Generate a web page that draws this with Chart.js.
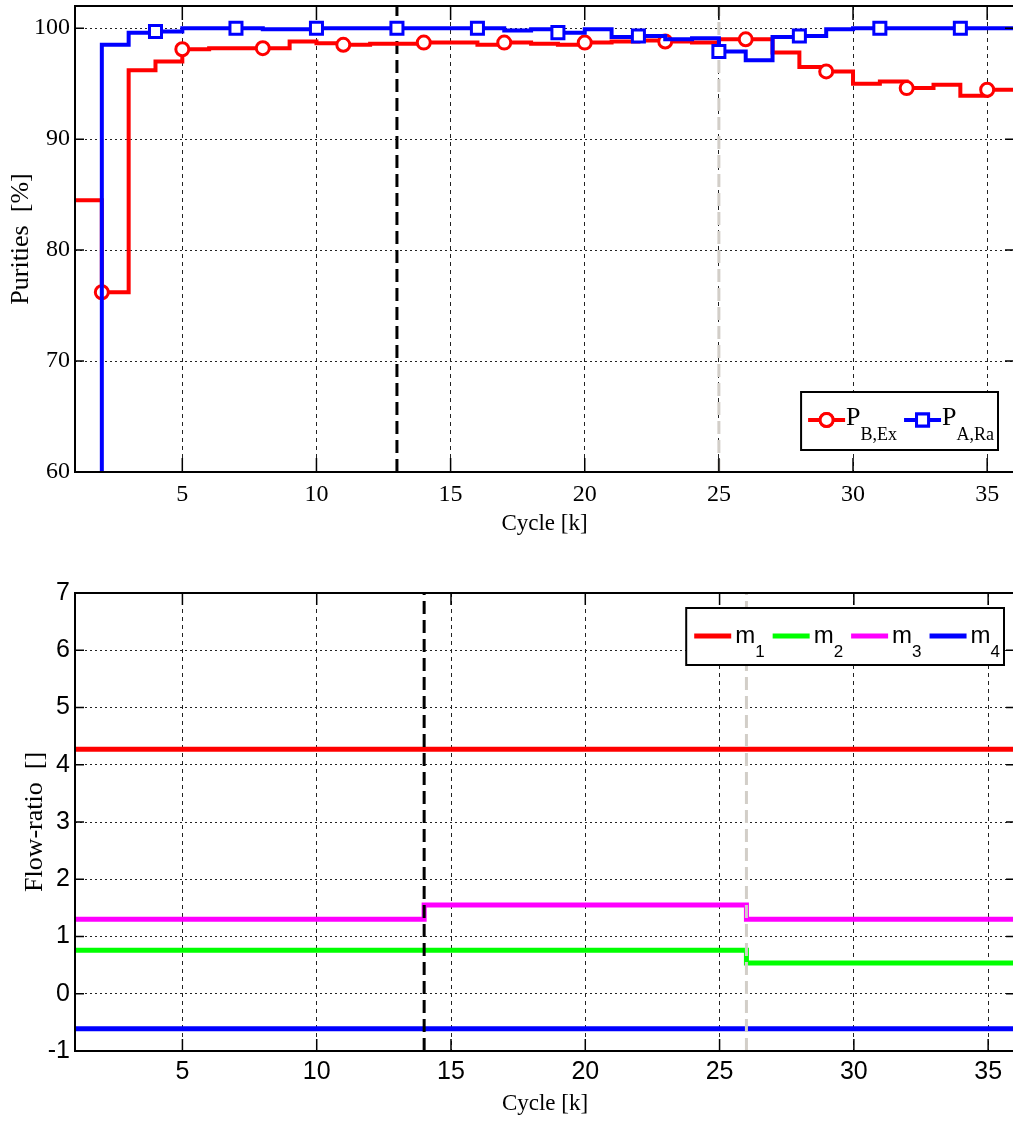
<!DOCTYPE html>
<html>
<head>
<meta charset="utf-8">
<script src="https://cdn.jsdelivr.net/npm/chart.js@4.4.1/dist/chart.umd.min.js"></script>
<style>
  html, body { margin: 0; padding: 0; background: #fff; overflow: hidden; }
  #wrap { position: relative; width: 1013px; height: 1125px; overflow: hidden; }
  #wrap canvas { position: absolute; left: 0; }
  #purity { top: 0; }
  #flow { top: 545px; }
</style>
</head>
<body>
<div id="wrap">
  <canvas id="purity" width="1016" height="545"></canvas>
  <canvas id="flow" width="1016" height="580"></canvas>
</div>
<script>
// Valeurs (puretés par cycle)
const cycles = [1, 2, 3, 4, 5, 6, 7, 8, 9, 10, 11, 12, 13, 14, 15, 16, 17, 18,
                19, 20, 21, 22, 23, 24, 25, 26, 27, 28, 29, 30, 31, 32, 33, 34, 35, 36];
const purityBEx = [84.5, 76.2, 96.2, 97.0, 98.1, 98.2, 98.2, 98.2, 98.8, 98.65, 98.5, 98.6,
                   98.6, 98.7, 98.7, 98.5, 98.7, 98.6, 98.5, 98.7, 98.8, 98.9, 98.8, 98.7,
                   99.0, 99.0, 97.8, 96.5, 96.1, 95.0, 95.2, 94.6, 94.9, 93.9, 94.45, 94.45];
const purityARa = [45, 98.5, 99.6, 99.7, 100, 100, 100, 99.9, 99.9, 100, 100, 100,
                   100, 100, 100, 100, 99.8, 99.9, 99.6, 99.9, 99.2, 99.3, 99.0, 99.1,
                   97.9, 97.1, 99.2, 99.3, 99.9, 100, 100, 100, 100, 100, 100, 100];
const purityLegend = [['P', 'B,Ex'], ['P', 'A,Ra']];
const purityRange = [60, 102];
const purityTicksY = [60, 70, 80, 90, 100];
const switchTop = [13, 25];

// Rapports de débit
const flowCycles = [1, 14, 26, 36];
const flowM1 = [4.27, 4.27, 4.27, 4.27];
const flowM2 = [0.76, 0.76, 0.535, 0.535];
const flowM3 = [1.30, 1.55, 1.30, 1.30];
const flowM4 = [-0.61, -0.61, -0.61, -0.61];
const flowLegend = [['m', '1'], ['m', '2'], ['m', '3'], ['m', '4']];
const flowRange = [-1, 7];
const flowTicksY = [-1, 0, 1, 2, 3, 4, 5, 6, 7];
const switchBottom = [14, 26];

const cycleRange = [1, 36];
const cycleTicks = [5, 10, 15, 20, 25, 30, 35];

const RED = '#ff0000', BLUE = '#0000ff', GREEN = '#00ff00', MAGENTA = '#ff00ff';
const BLACK = '#000000', GREY = '#d2cec8';
const SERIF = "'Liberation Serif', 'Times New Roman', serif";
const SANS = "'Liberation Sans Narrow', 'Liberation Sans', Arial, sans-serif";

function toPoints(xs, ys) {
    return xs.map((x, i) => ({ x: x, y: ys[i] }));
}

function switchLine(cycle, range, color, order) {
    return {
        data: [{ x: cycle, y: range[0] }, { x: cycle, y: range[1] }],
        borderColor: color,
        borderWidth: 3,
        borderDash: [13, 6],
        pointRadius: 0,
        order: order
    };
}

// Cadre façon Matlab : bordure + graduations vers l'intérieur
const axesBox = {
    id: 'axesBox',
    afterDraw(chart, args, o) {
        const { ctx, chartArea: a, scales: { x, y } } = chart;
        ctx.save();
        ctx.strokeStyle = BLACK;
        ctx.lineWidth = 1.5;
        ctx.beginPath();
        x.ticks.forEach(t => {
            const px = x.getPixelForValue(t.value);
            ctx.moveTo(px, a.bottom); ctx.lineTo(px, a.bottom - o.xTickLen);
            ctx.moveTo(px, a.top); ctx.lineTo(px, a.top + o.xTickLen);
        });
        y.ticks.forEach(t => {
            const py = y.getPixelForValue(t.value);
            ctx.moveTo(a.left, py); ctx.lineTo(a.left + o.yTickLen, py);
            ctx.moveTo(a.right, py); ctx.lineTo(a.right - o.yTickLen, py);
        });
        ctx.stroke();
        ctx.lineWidth = 2;
        ctx.strokeRect(a.left, a.top, a.right - a.left, a.bottom - a.top);
        ctx.restore();
    }
};

// Légende encadrée avec indices
const boxLegend = {
    id: 'boxLegend',
    afterDraw(chart, args, o) {
        const { ctx, chartArea: a } = chart;
        const items = chart.data.datasets.filter(d => d.legendText);
        ctx.save();
        const widths = items.map(d => {
            ctx.font = o.mainFont;
            const wm = ctx.measureText(d.legendText[0]).width;
            ctx.font = o.subFont;
            const ws = ctx.measureText(d.legendText[1]).width;
            return { wm, ws };
        });
        let total = o.padLeft + o.padRight;
        widths.forEach((w, i) => {
            total += o.sampleLen + o.textGap + w.wm + w.ws + (i > 0 ? o.itemGap : 0);
        });
        const right = a.right - o.right;
        const left = right - total;
        const top = o.fromBottom != null ? a.bottom - o.fromBottom - o.height : a.top + o.fromTop;

        ctx.fillStyle = '#fff';
        ctx.fillRect(left, top, total, o.height);
        ctx.strokeStyle = BLACK;
        ctx.lineWidth = 2;
        ctx.strokeRect(left, top, total, o.height);

        let cx = left + o.padLeft;
        items.forEach((d, i) => {
            if (i > 0) cx += o.itemGap;
            const ly = top + o.sampleY;
            ctx.strokeStyle = d.borderColor;
            ctx.lineWidth = d.borderWidth;
            ctx.setLineDash([]);
            ctx.beginPath();
            ctx.moveTo(cx, ly);
            ctx.lineTo(cx + o.sampleLen, ly);
            ctx.stroke();
            if (d.legendMarker) {
                ctx.lineWidth = d.pointBorderWidth;
                Chart.helpers.drawPoint(ctx, {
                    pointStyle: d.pointStyle,
                    radius: d.legendMarker,
                    borderWidth: d.pointBorderWidth
                }, cx + o.sampleLen / 2, ly);
                ctx.fillStyle = '#fff';
                ctx.fill();
                ctx.stroke();
            }
            cx += o.sampleLen + o.textGap;
            ctx.fillStyle = BLACK;
            ctx.textBaseline = 'alphabetic';
            ctx.textAlign = 'left';
            ctx.font = o.mainFont;
            ctx.fillText(d.legendText[0], cx, top + o.mainBase);
            cx += widths[i].wm;
            ctx.font = o.subFont;
            ctx.fillText(d.legendText[1], cx, top + o.subBase);
            cx += widths[i].ws;
        });
        ctx.restore();
    }
};

function cycleAxis(height, tickFont, tickPad, titleFont) {
    return {
        type: 'linear',
        min: cycleRange[0],
        max: cycleRange[1],
        afterBuildTicks: s => { s.ticks = cycleTicks.map(v => ({ value: v })); },
        afterFit: s => { s.height = height; s.paddingLeft = 0; s.paddingRight = 0; },
        ticks: { color: BLACK, font: tickFont, padding: tickPad, maxRotation: 0, autoSkip: false },
        grid: { color: '#222', lineWidth: 1, drawTicks: false },
        border: { display: false, dash: [4, 4] },
        title: { display: true, text: 'Cycle [k]', color: BLACK, font: titleFont, padding: { top: 0, bottom: 7 } }
    };
}

function valueAxis(range, tickValues, width, tickFont, label, titlePad) {
    return {
        type: 'linear',
        min: range[0],
        max: range[1],
        afterBuildTicks: s => { s.ticks = tickValues.map(v => ({ value: v })); },
        afterFit: s => { s.width = width; s.paddingTop = 0; s.paddingBottom = 0; },
        ticks: { color: BLACK, font: tickFont, padding: 5, autoSkip: false },
        grid: { color: '#222', lineWidth: 1, drawTicks: false },
        border: { display: false, dash: [2, 3] },
        title: { display: true, text: label, color: BLACK, font: { family: SERIF, size: 26 }, padding: { top: titlePad, bottom: 0 } }
    };
}

// Graphique du haut : puretés
new Chart(document.getElementById('purity'), {
    type: 'line',
    data: {
        datasets: [
            {
                data: toPoints(cycles, purityBEx),
                borderColor: RED,
                borderWidth: 4,
                stepped: true,
                pointStyle: 'circle',
                pointRadius: ctx => (ctx.dataIndex % 3 === 1 ? 6.5 : 0),
                pointBackgroundColor: '#fff',
                pointBorderColor: RED,
                pointBorderWidth: 3,
                legendText: purityLegend[0],
                legendMarker: 6.5,
                order: 2
            },
            {
                data: toPoints(cycles, purityARa),
                borderColor: BLUE,
                borderWidth: 4,
                stepped: true,
                pointStyle: 'rect',
                pointRadius: ctx => (ctx.dataIndex % 3 === 0 ? 8.5 : 0),
                pointBackgroundColor: '#fff',
                pointBorderColor: BLUE,
                pointBorderWidth: 3,
                legendText: purityLegend[1],
                legendMarker: 8.5,
                order: 1
            },
            switchLine(switchTop[0], purityRange, BLACK, 3),
            switchLine(switchTop[1], purityRange, GREY, 3)
        ]
    },
    options: {
        responsive: false,
        animation: false,
        events: [],
        layout: { autoPadding: false, padding: { top: 6, left: 0, right: 2, bottom: 0 } },
        scales: {
            x: cycleAxis(73, { family: SERIF, size: 24 }, 8, { family: SERIF, size: 23 }),
            y: valueAxis(purityRange, purityTicksY, 75, { family: SERIF, size: 24 }, 'Purities  [%]', 6)
        },
        plugins: {
            legend: { display: false },
            tooltip: { enabled: false },
            axesBox: { xTickLen: 14, yTickLen: 9 },
            boxLegend: {
                right: 16, fromBottom: 22, height: 58,
                padLeft: 7, padRight: 4, sampleLen: 37, textGap: 1, itemGap: 7,
                sampleY: 28, mainBase: 33, subBase: 48,
                mainFont: '26px ' + SERIF, subFont: '18px ' + SERIF
            }
        }
    },
    plugins: [axesBox, boxLegend]
});

// Graphique du bas : rapports de débit
function flowSet(values, color, legend) {
    return {
        data: toPoints(flowCycles, values),
        borderColor: color,
        borderWidth: 5,
        stepped: true,
        pointRadius: 0,
        legendText: legend,
        order: 1
    };
}

new Chart(document.getElementById('flow'), {
    type: 'line',
    data: {
        datasets: [
            flowSet(flowM1, RED, flowLegend[0]),
            flowSet(flowM2, GREEN, flowLegend[1]),
            flowSet(flowM3, MAGENTA, flowLegend[2]),
            flowSet(flowM4, BLUE, flowLegend[3]),
            switchLine(switchBottom[0], flowRange, BLACK, 0),
            switchLine(switchBottom[1], flowRange, GREY, 0)
        ]
    },
    options: {
        responsive: false,
        animation: false,
        events: [],
        layout: { autoPadding: false, padding: { top: 48, left: 0, right: 1, bottom: 0 } },
        scales: {
            x: cycleAxis(74, { family: SANS, size: 25 }, 6, { family: SERIF, size: 23 }),
            y: valueAxis(flowRange, flowTicksY, 75, { family: SANS, size: 25 }, 'Flow-ratio  []', 20)
        },
        plugins: {
            legend: { display: false },
            tooltip: { enabled: false },
            axesBox: { xTickLen: 12, yTickLen: 9 },
            boxLegend: {
                right: 11, fromTop: 15, height: 57,
                padLeft: 8, padRight: 4, sampleLen: 37, textGap: 4, itemGap: 8,
                sampleY: 28, mainBase: 35, subBase: 49,
                mainFont: '24px ' + SANS, subFont: '17px ' + SANS
            }
        }
    },
    plugins: [axesBox, boxLegend]
});
</script>
</body>
</html>
